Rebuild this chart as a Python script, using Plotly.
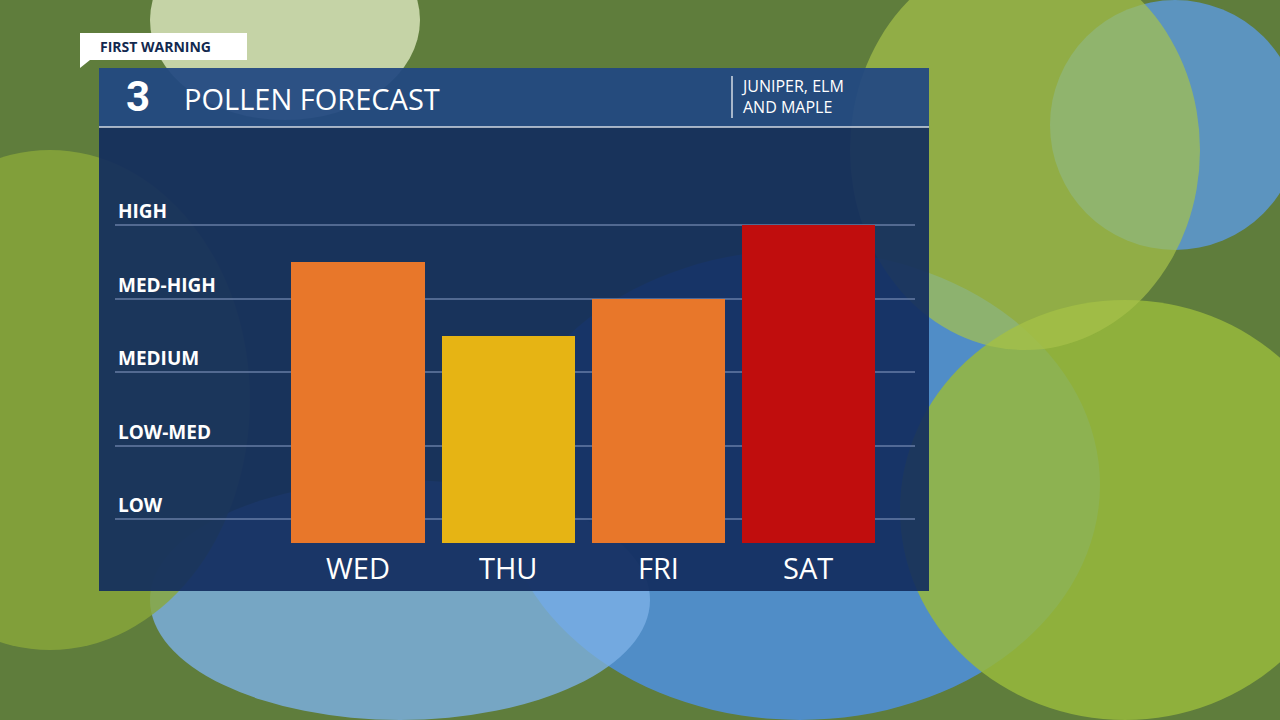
import plotly.graph_objects as go

days = ["WED", "THU", "FRI", "SAT"]
levels = [4.5, 3.5, 4.0, 5.0]
colors = ["#E8772A", "#E6B414", "#E8772A", "#C00D0D"]
level_labels = ["LOW", "LOW-MED", "MEDIUM", "MED-HIGH", "HIGH"]
level_values = [1, 2, 3, 4, 5]

W, H = 1280, 720
def px(x): return x / W
def py(y): return 1 - y / H

base = 0.673
fig = go.Figure(go.Bar(x=list(range(len(days))), y=[v - base for v in levels], base=base,
                       marker=dict(color=colors, line=dict(width=0)), width=0.887))

shapes = []
shapes += [
    dict(type="rect", xref="paper", yref="paper", x0=0, x1=1, y0=0, y1=1, fillcolor="#5f7d3c", line_width=0, layer="below"),
    dict(type="circle", xref="paper", yref="paper", x0=px(500), x1=px(1100), y0=py(720), y1=py(250), fillcolor="#4f8fd6", line_width=0, layer="below", opacity=0.9),
    dict(type="circle", xref="paper", yref="paper", x0=px(150), x1=px(650), y0=py(720), y1=py(480), fillcolor="#7cb0e6", line_width=0, layer="below", opacity=0.8),
    dict(type="circle", xref="paper", yref="paper", x0=px(1050), x1=px(1300), y0=py(250), y1=py(0), fillcolor="#5b9ae0", line_width=0, layer="below", opacity=0.8),
    dict(type="circle", xref="paper", yref="paper", x0=px(150), x1=px(420), y0=py(120), y1=py(-80), fillcolor="#dfe9c0", line_width=0, layer="below", opacity=0.8),
    dict(type="circle", xref="paper", yref="paper", x0=px(900), x1=px(1350), y0=py(720), y1=py(300), fillcolor="#98b83c", line_width=0, layer="below", opacity=0.85),
    dict(type="circle", xref="paper", yref="paper", x0=px(-150), x1=px(250), y0=py(650), y1=py(150), fillcolor="#8aa73a", line_width=0, layer="below", opacity=0.8),
    dict(type="circle", xref="paper", yref="paper", x0=px(850), x1=px(1200), y0=py(350), y1=py(-50), fillcolor="#a7c24a", line_width=0, layer="below", opacity=0.7),
]
shapes += [
    dict(type="rect", xref="paper", yref="paper", x0=px(99), x1=px(929), y0=py(591), y1=py(127), fillcolor="rgba(18,44,94,0.92)", line_width=0, layer="below"),
    dict(type="rect", xref="paper", yref="paper", x0=px(99), x1=px(929), y0=py(127), y1=py(68), fillcolor="rgba(34,72,130,0.94)", line_width=0, layer="below"),
    dict(type="line", xref="paper", yref="paper", x0=px(99), x1=px(929), y0=py(127), y1=py(127), line=dict(color="rgba(255,255,255,0.8)", width=1.5)),
    dict(type="line", xref="paper", yref="paper", x0=px(732), x1=px(732), y0=py(76), y1=py(118), line=dict(color="rgba(255,255,255,0.8)", width=1.5)),
    dict(type="rect", xref="paper", yref="paper", x0=px(80), x1=px(247), y0=py(60), y1=py(33), fillcolor="white", line_width=0),
    dict(type="path", xref="paper", yref="paper", path=f"M {px(80)},{py(60)} L {px(90)},{py(60)} L {px(80)},{py(68)} Z", fillcolor="white", line_width=0),
]

def A(**k):
    k.setdefault("showarrow", False)
    k.setdefault("yanchor", "middle")
    return k

ann = [
    A(text="<b>FIRST WARNING</b>", x=px(98), y=py(47), xref="paper", yref="paper", xanchor="left", font=dict(size=14, color="#13294f", family="Open Sans")),
    A(text="<b>3</b>", x=px(138), y=py(97), xref="paper", yref="paper", xanchor="center", font=dict(size=42, color="white", family="Roboto")),
    A(text="POLLEN FORECAST", x=px(182), y=py(99), xref="paper", yref="paper", xanchor="left", font=dict(size=29, color="white", family="Open Sans")),
    A(text="JUNIPER, ELM<br>AND MAPLE", x=px(739), y=py(97), xref="paper", yref="paper", xanchor="left", align="left", font=dict(size=16, color="white", family="Open Sans")),
]
for lab, v in zip(level_labels, level_values):
    ann.append(dict(text=f"<b>{lab}</b>", x=px(116), y=v, xref="paper", yref="y", yanchor="bottom", yshift=-1, xanchor="left", showarrow=False, font=dict(size=19, color="white", family="Open Sans")))
for i, d in enumerate(days):
    ann.append(A(text=d, x=i, y=py(567), xref="x", yref="paper", xanchor="center", font=dict(size=29, color="white", family="Open Sans")))

fig.update_layout(
    width=W, height=H, margin=dict(l=0, r=0, t=0, b=0), showlegend=False,
    paper_bgcolor="#5f7d3c", plot_bgcolor="rgba(0,0,0,0)",
    xaxis=dict(domain=[px(115), px(915)], range=[-1.62, 3.713], showticklabels=False, showgrid=False, zeroline=False, fixedrange=True),
    yaxis=dict(domain=[py(543), py(152)], range=[base, 6], tickvals=[1, 2, 3, 4, 5, 6], showticklabels=False,
               gridcolor="rgba(130,150,190,0.55)", gridwidth=2, zeroline=False),
    shapes=shapes, annotations=ann, bargap=0,
)
fig.write_html("out.html", config={"displayModeBar": False},
               post_script="document.body.style.margin='0';document.body.style.overflow='hidden';")
